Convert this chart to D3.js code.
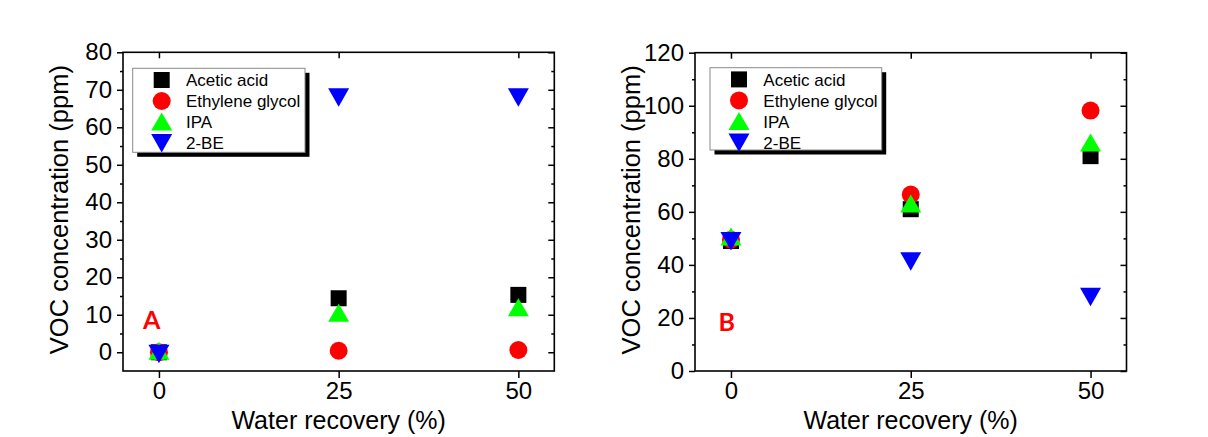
<!DOCTYPE html>
<html>
<head>
<meta charset="utf-8">
<script src="https://cdn.jsdelivr.net/npm/d3@7"></script>
<style>
  html, body { margin: 0; padding: 0; background: #fff; }
  svg { display: block; }
  text { font-family: "Liberation Sans", Arial, sans-serif; fill: #000; }
</style>
</head>
<body>
<svg id="chart" width="1208" height="437"></svg>
<script>
// Water recovery levels (%) shared by both panels
const recovery = [0, 25, 50];
const seriesNames = ["Acetic acid", "Ethylene glycol", "IPA", "2-BE"];

// Panel A: VOC concentration (ppm)
const aAcetic = [0, 14.4, 15.3];
const aGlycol = [0, 0.4, 0.6];
const aIPA    = [0.3, 10.4, 11.9];
const aBE     = [-0.4, 68.0, 68.0];

// Panel B: VOC concentration (ppm)
const bAcetic = [49, 61, 81];
const bGlycol = [49.5, 66.5, 98.2];
const bIPA    = [50.5, 63, 86];
const bBE     = [49, 41.4, 28];

// Axis ticks
const xTicks = [0, 25, 50];
const aMajor = [0, 10, 20, 30, 40, 50, 60, 70, 80];
const aMinor = [5, 15, 25, 35, 45, 55, 65, 75];
const bMajor = [0, 20, 40, 60, 80, 100, 120];
const bMinor = [10, 30, 50, 70, 90, 110];

const colors = ["#000000", "#ff0000", "#00ff00", "#0000ff"];
const shapes = ["square", "circle", "up", "down"];

const svg = d3.select("#chart");

function symbolPath(shape) {
  if (shape === "square") return "M-8,-8H8V8H-8Z";
  if (shape === "circle") return d3.symbol(d3.symbolCircle, Math.PI * 9 * 9)();
  if (shape === "up") return "M0,-9.5L10.5,8.5L-10.5,8.5Z";
  return "M0,9.5L10.5,-9L-10.5,-9Z";
}

function drawPanel(cfg) {
  const g = svg.append("g");
  const x = d3.scaleLinear().domain([-5, 55]).range([cfg.left, cfg.right]);
  const y = d3.scaleLinear().domain(cfg.yDomain).range([cfg.bottom, cfg.top]);

  // bottom axis (outward ticks with labels)
  const bx = g.append("g").attr("transform", `translate(0,${cfg.bottom})`)
    .call(d3.axisBottom(x).tickValues(xTicks).tickSize(7).tickPadding(4).tickSizeOuter(0));
  // top axis (inward ticks)
  const tx = g.append("g").attr("transform", `translate(0,${cfg.top})`)
    .call(d3.axisBottom(x).tickValues(xTicks).tickSize(6).tickFormat("").tickSizeOuter(0));
  // left axis, major with labels and minor
  const ly = g.append("g").attr("transform", `translate(${cfg.left},0)`)
    .call(d3.axisLeft(y).tickValues(cfg.major).tickSize(6).tickPadding(5).tickSizeOuter(0));
  const lym = g.append("g").attr("transform", `translate(${cfg.left},0)`)
    .call(d3.axisLeft(y).tickValues(cfg.minor).tickSize(3).tickFormat("").tickSizeOuter(0));
  // right axis (inward ticks)
  const ry = g.append("g").attr("transform", `translate(${cfg.right},0)`)
    .call(d3.axisLeft(y).tickValues(cfg.major).tickSize(6).tickFormat("").tickSizeOuter(0));
  const rym = g.append("g").attr("transform", `translate(${cfg.right},0)`)
    .call(d3.axisLeft(y).tickValues(cfg.minor).tickSize(3).tickFormat("").tickSizeOuter(0));

  [bx, tx, ly, lym, ry, rym].forEach(a => {
    a.select(".domain").remove();
    a.selectAll("line").attr("stroke", "#000").attr("stroke-width", 1.5);
    a.selectAll("text").style("font-size", "24px")
      .style("font-family", '"Liberation Sans", Arial, sans-serif');
  });

  // plot frame
  g.append("rect")
    .attr("x", cfg.left).attr("y", cfg.top)
    .attr("width", cfg.right - cfg.left).attr("height", cfg.bottom - cfg.top)
    .attr("fill", "none").attr("stroke", "#000").attr("stroke-width", 1.6);

  // markers
  cfg.series.forEach((vals, i) => {
    g.append("g").selectAll("path")
      .data(recovery.map((r, k) => [r, vals[k]]))
      .join("path")
      .attr("d", symbolPath(shapes[i]))
      .attr("transform", d => `translate(${x(d[0])},${y(d[1])})`)
      .attr("fill", colors[i]);
  });

  // legend with drop shadow
  const L = cfg.legend;
  g.append("rect").attr("x", L.x + 4.5).attr("y", L.y + 4.5)
    .attr("width", L.w).attr("height", L.h).attr("fill", "#000");
  g.append("rect").attr("x", L.x).attr("y", L.y)
    .attr("width", L.w).attr("height", L.h)
    .attr("fill", "#fff").attr("stroke", "#8a8a8a").attr("stroke-width", 1);
  seriesNames.forEach((name, i) => {
    const cy = L.y + 11.7 + i * 21;
    g.append("path").attr("d", symbolPath(shapes[i]))
      .attr("transform", `translate(${L.x + 29},${cy})`)
      .attr("fill", colors[i]);
    g.append("text").attr("x", L.x + 53.3).attr("y", cy).attr("dy", "0.36em")
      .style("font-size", "17px").text(name);
  });

  // axis titles
  g.append("text")
    .attr("x", (cfg.left + cfg.right) / 2).attr("y", 429)
    .attr("text-anchor", "middle").style("font-size", "25px")
    .text("Water recovery (%)");
  g.append("text")
    .attr("transform", `translate(${cfg.left - 55},${(cfg.top + cfg.bottom) / 2 - 2}) rotate(-90)`)
    .attr("text-anchor", "middle").style("font-size", "25.5px")
    .text("VOC concentration (ppm)");

  // panel letter
  g.append("text")
    .attr("x", cfg.tag.x).attr("y", cfg.tag.y)
    .attr("text-anchor", "middle")
    .style("font-family", "Lato, 'Open Sans', sans-serif")
    .style("font-weight", "bold").style("font-size", "25px")
    .style("fill", "#ff0000")
    .text(cfg.tag.text);
}

drawPanel({
  left: 123, right: 554.3, top: 52.3, bottom: 371,
  yDomain: [-5, 80], major: aMajor, minor: aMinor,
  series: [aAcetic, aGlycol, aIPA, aBE],
  legend: { x: 132.7, y: 68.3, w: 172.3, h: 84 },
  tag: { text: "A", x: 151.7, y: 329 }
});

drawPanel({
  left: 695, right: 1126.5, top: 52.7, bottom: 371,
  yDomain: [0, 120], major: bMajor, minor: bMinor,
  series: [bAcetic, bGlycol, bIPA, bBE],
  legend: { x: 710, y: 67.7, w: 171.7, h: 82.3 },
  tag: { text: "B", x: 726.7, y: 331 }
});
</script>
</body>
</html>
